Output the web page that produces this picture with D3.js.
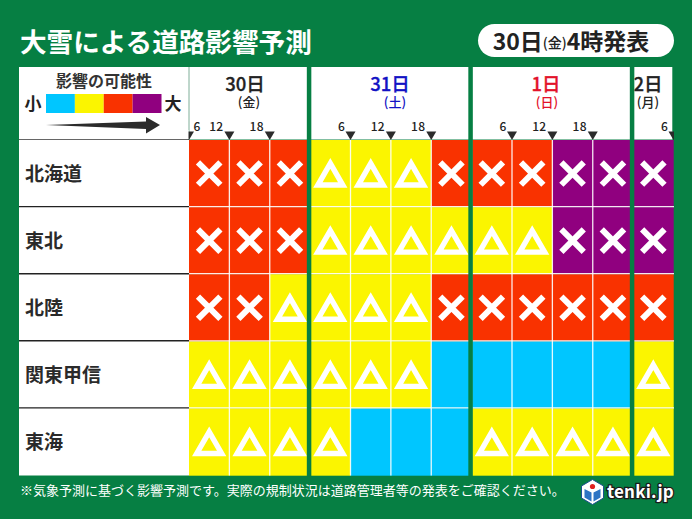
<!DOCTYPE html>
<html><head><meta charset="utf-8">
<script src="https://cdn.jsdelivr.net/npm/d3@7"></script>
<style>
html,body{margin:0;padding:0;background:#067f43;overflow:hidden}
text{font-family:"Noto Sans CJK JP","Noto Sans",sans-serif}
</style></head><body><div id="c"></div>
<script>
const regions=["北海道","東北","北陸","関東甲信","東海"];
const levelColors=["#00c6ff","#fbf500","#f93200","#90007f"];
const r1=[2,2,2,1,1,1,2,2,2,3,3,3];
const r2=[2,2,2,1,1,1,1,1,1,3,3,3];
const r3=[2,2,1,1,1,1,2,2,2,2,2,2];
const r4=[1,1,1,1,1,1,0,0,0,0,0,1];
const r5=[1,1,1,1,0,0,0,1,1,1,1,1];
const rows=[r1,r2,r3,r4,r5];
const dayLabels=["30日","31日","1日","2日"];
const weekLabels=["(金)","(土)","(日)","(月)"];
const daySlots=[[0,3],[3,7],[7,11],[11,12]];
const dayColors=["#222222","#1212c4","#e3122a","#222222"];
const tickSlots=[0,1,2,4,5,6,8,9,10,12];
const tickLabels=["6","12","18","6","12","18","6","12","18","6"];
const W=692,H=519;
const svg=d3.select("#c").append("svg").attr("width",W).attr("height",H).style("display","block");
svg.append("rect").attr("width",W).attr("height",H).attr("fill","#067f43");
const x=d3.scaleLinear().domain([0,12]).range([189,673.5]);
const y=d3.scaleBand().domain(regions).range([140,475.5]).paddingInner(0);
const gapL=3.3,gapR=1.2;
const left=19,headTop=67,headBot=139.5;

svg.append("text").attr("x",20).attr("y",52).attr("font-size",26.6).attr("font-weight",700).attr("fill","#fff").text("大雪による道路影響予測");
svg.append("rect").attr("x",478).attr("y",24).attr("width",196).attr("height",33).attr("rx",16.5).attr("fill","#fff");
const b=svg.append("text").attr("x",571).attr("y",49.5).attr("text-anchor","middle").attr("fill","#222").attr("font-weight",700).attr("font-size",23);
b.append("tspan").text("30日");
b.append("tspan").attr("font-size",14).attr("font-weight",500).attr("dy",-1.5).text("(金)");
b.append("tspan").attr("dy",1.5).text("4時発表");

// header + label panel
svg.append("rect").attr("x",left).attr("y",headTop).attr("width",170).attr("height",475.5-headTop).attr("fill","#fff");
svg.append("rect").attr("x",189).attr("y",headTop).attr("width",x(12)-1-189).attr("height",headBot-headTop).attr("fill","#fff");
svg.append("line").attr("x1",189).attr("x2",189).attr("y1",headTop).attr("y2",headBot).attr("stroke","#7fae98").attr("stroke-width",1);
svg.append("line").attr("x1",left).attr("x2",189).attr("y1",139.5).attr("y2",139.5).attr("stroke","#666").attr("stroke-width",1.2);

// legend
svg.append("text").attr("x",104).attr("y",87).attr("text-anchor","middle").attr("font-size",16).attr("font-weight",700).attr("fill","#333").text("影響の可能性");
svg.append("text").attr("x",33).attr("y",110).attr("text-anchor","middle").attr("font-size",17).attr("font-weight",700).attr("fill","#222").text("小");
svg.append("text").attr("x",173).attr("y",110).attr("text-anchor","middle").attr("font-size",17).attr("font-weight",700).attr("fill","#222").text("大");
const lx=d3.scaleBand().domain(d3.range(levelColors.length)).range([46,161.5]);
svg.selectAll(".lg").data(levelColors).join("rect").attr("x",(d,i)=>lx(i)).attr("y",94).attr("width",lx.bandwidth()).attr("height",19).attr("fill",d=>d);
svg.append("path").attr("d","M46,125 L146,121.5 L146,117 L160,125 L146,133.5 L146,129 Z").attr("fill","#2b2b2b");

// cells
const flat=rows.flatMap((r,i)=>r.map((v,j)=>({region:regions[i],slot:j,v})));
svg.selectAll(".cell").data(flat).join("rect").attr("class","cell")
 .attr("x",d=>x(d.slot)).attr("y",d=>y(d.region)).attr("width",x(1)-x(0)+.2).attr("height",y.bandwidth()+.2)
 .attr("fill",d=>levelColors[d.v]);
// white grid
svg.selectAll(".vl").data(d3.range(1,12)).join("line").attr("x1",d=>x(d)).attr("x2",d=>x(d)).attr("y1",140).attr("y2",475.5).attr("stroke","#fff").attr("stroke-opacity",.9).attr("stroke-width",1.3);
svg.selectAll(".hl").data(regions.slice(1)).join("line").attr("x1",189).attr("x2",674).attr("y1",d=>y(d)-.5).attr("y2",d=>y(d)-.5).attr("stroke","#fff").attr("stroke-opacity",.9).attr("stroke-width",1.3);
svg.selectAll(".hk").data(regions.slice(1)).join("line").attr("x1",left).attr("x2",189).attr("y1",d=>y(d)-.5).attr("y2",d=>y(d)-.5).attr("stroke","#222").attr("stroke-width",1.4);
// marks
const mid=d=>x(d.slot+.5), cy=d=>y(d.region)+y.bandwidth()/2;
const g=svg.append("g");
const cr=11.2;
g.selectAll(".x").data(flat.filter(d=>d.v>=2)).join("path").attr("class","x")
 .attr("d",d=>{const a=mid(d),c=cy(d);return `M${a-cr},${c-cr}L${a+cr},${c+cr}M${a-cr},${c+cr}L${a+cr},${c-cr}`})
 .attr("stroke","#fff").attr("stroke-width",6).attr("fill","none");
const tr=7.2;
g.selectAll(".t").data(flat.filter(d=>d.v===1)).join("path").attr("class","t")
 .attr("d",d=>{const a=mid(d),c=cy(d)+4.3;const s=tr*Math.sqrt(3);return `M${a},${c-2*tr}L${a+s},${c+tr}L${a-s},${c+tr}Z`})
 .attr("stroke","#fff").attr("stroke-width",5.4).attr("fill","none").attr("stroke-linejoin","miter");

// day gaps
svg.selectAll(".gap").data(daySlots.slice(1)).join("rect").attr("x",d=>x(d[0])-gapL).attr("y",headTop).attr("width",gapL+gapR).attr("height",475.5-headTop+1).attr("fill","#067f43");
svg.append("rect").attr("x",672.6).attr("y",headTop).attr("width",3).attr("height",headBot-headTop-8).attr("fill","#067f43");

// day labels
const dc=[245,390,546,648];
svg.append("clipPath").attr("id","d2").append("rect").attr("x",x(11)+gapR).attr("y",headTop).attr("width",60).attr("height",60);
svg.selectAll(".day").data(dayLabels).join("text").attr("x",(d,i)=>dc[i]).attr("y",90.5).attr("text-anchor","middle").attr("font-size",18.5).attr("font-weight",500).attr("stroke-width",.3)
 .attr("stroke",(d,i)=>dayColors[i]).attr("fill",(d,i)=>dayColors[i]).attr("clip-path",(d,i)=>i===3?"url(#d2)":null).text(d=>d);
svg.selectAll(".wk").data(weekLabels).join("text").attr("x",(d,i)=>[249,395,547,648][i]).attr("y",106.5).attr("text-anchor","middle").attr("font-size",13).attr("font-weight",500)
 .attr("fill",(d,i)=>dayColors[i]).text(d=>d);
// time ticks
svg.selectAll(".tm").data(tickSlots).join("path").attr("d",d=>{const a=x(d);return `M${a-5},131.5L${a+5},131.5L${a},140Z`}).attr("fill","#2b2b2b");
svg.append("rect").attr("x",left+160).attr("y",130).attr("width",9.5).attr("height",9).attr("fill","#fff");
svg.append("rect").attr("x",674).attr("y",130).attr("width",8).attr("height",10).attr("fill","#067f43");
svg.selectAll(".tl").data(tickLabels).join("text")
 .attr("x",(d,i)=>{const s=tickSlots[i];return x(s)+(i===0?8:d==="6"?-9:-13)})
 .attr("y",131).attr("text-anchor","middle").attr("font-size",12).attr("font-family","'Noto Sans',sans-serif").attr("font-weight",500).attr("letter-spacing",.4).attr("fill","#222").text(d=>d);
// region labels
svg.selectAll(".rl").data(regions).join("text").attr("x",25).attr("y",d=>y(d)+y.bandwidth()/2+7).attr("font-size",19).attr("font-weight",700).attr("fill","#2a2a2a").text(d=>d);
// footer
svg.append("text").attr("x",20).attr("y",495).attr("font-size",13).attr("font-weight",400).attr("fill","#fff").text("※気象予測に基づく影響予測です。実際の規制状況は道路管理者等の発表をご確認ください。");
// logo
svg.append("path").attr("d","M592.5,479.5L603.5,486L603.5,498L592.5,504.5L581.5,498L581.5,486Z").attr("fill","#fff").attr("stroke","#1a4f8f").attr("stroke-width",1);
svg.append("path").attr("d","M584.5,489L591.5,492.5L591.5,501.5L584.5,497.5Z M600.5,489L593.5,492.5L593.5,501.5L600.5,497.5Z").attr("fill","#2d74c4");
svg.append("circle").attr("cx",592.5).attr("cy",486.5).attr("r",2.6).attr("fill","#e02020");
svg.append("text").attr("x",607).attr("y",498).attr("font-family","'Liberation Sans',sans-serif").attr("font-size",17).attr("font-weight",700).attr("letter-spacing",.2).attr("fill","#fff").attr("stroke","#1a1a1a").attr("stroke-width",2.6).attr("paint-order","stroke").text("tenki.jp");
</script></body></html>
